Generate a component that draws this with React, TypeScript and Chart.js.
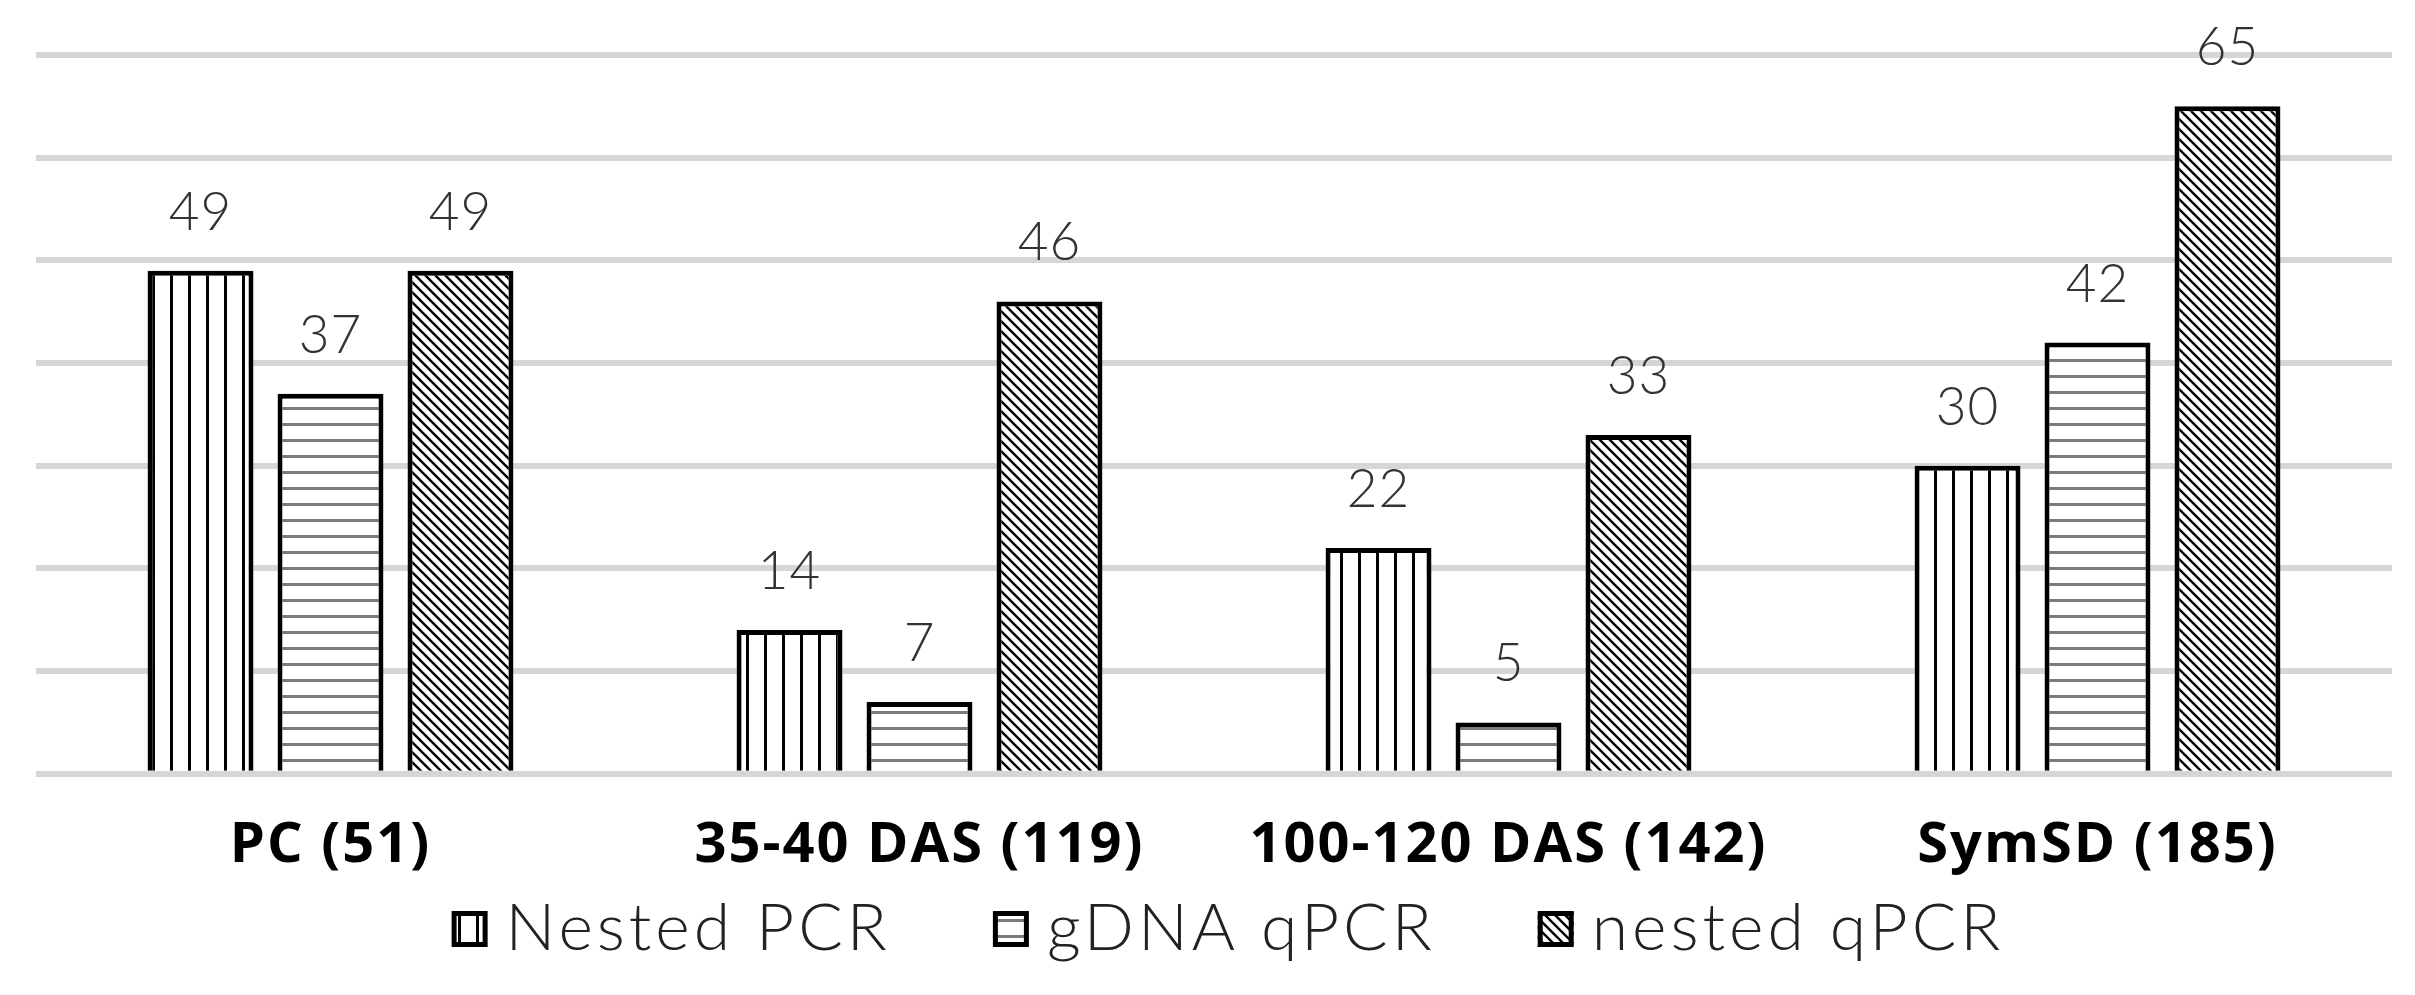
import { useEffect, useRef } from "react";
import { Chart, registerables } from "chart.js";

Chart.register(...registerables);

const categories = ["PC (51)", "35-40 DAS (119)", "100-120 DAS (142)", "SymSD (185)"];
const seriesNames = ["Nested PCR", "gDNA qPCR", "nested qPCR"];
const nestedPCR = [49, 14, 22, 30];
const gdnaQPCR = [37, 7, 5, 42];
const nestedQPCR = [49, 46, 33, 65];
const yMin = 0;
const yMax = 70;
const yStep = 10;

const LIGHT_FONT = "Lato, 'Open Sans', sans-serif";
const BOLD_FONT = "'Open Sans', 'Noto Sans', sans-serif";

function makePattern(
  ctx: CanvasRenderingContext2D,
  w: number,
  h: number,
  draw: (g: CanvasRenderingContext2D) => void
): CanvasPattern | string {
  const c = document.createElement("canvas");
  c.width = w;
  c.height = h;
  const g = c.getContext("2d")!;
  g.fillStyle = "#ffffff";
  g.fillRect(0, 0, w, h);
  draw(g);
  return ctx.createPattern(c, "repeat") || "#fff";
}

const letterSpacingPlugin = {
  id: "letterSpacing",
  beforeDraw(chart: any) {
    (chart.ctx as any).letterSpacing = "2px";
  },
};

const valueLabels = {
  id: "valueLabels",
  afterDatasetsDraw(chart: any) {
    const ctx = chart.ctx;
    ctx.save();
    (ctx as any).letterSpacing = "1px";
    ctx.fillStyle = "#333333";
    ctx.font = `300 53px ${LIGHT_FONT}`;
    ctx.textAlign = "center";
    ctx.textBaseline = "alphabetic";
    chart.data.datasets.forEach((ds: any, i: number) => {
      const meta = chart.getDatasetMeta(i);
      meta.data.forEach((el: any, j: number) => {
        ctx.fillText(String(ds.data[j]), el.x, el.y - 41);
      });
    });
    ctx.restore();
  },
};

const LEGEND_FONT_SIZE = 66;
const LEGEND_BOX = 36;
const LEGEND_TEXT_GAP = 18;
const LEGEND_ITEM_GAP = 102;
const LEGEND_FROM_BOTTOM = 66;
const LEGEND_SHIFT_X = 14;

const customLegend = {
  id: "customLegend",
  afterDraw(chart: any) {
    const ctx = chart.ctx;
    const cy = chart.height - LEGEND_FROM_BOTTOM;
    ctx.save();
    (ctx as any).letterSpacing = "4px";
    ctx.font = `300 ${LEGEND_FONT_SIZE}px ${LIGHT_FONT}`;
    const items = chart.data.datasets.map((ds: any) => {
      const tw = ctx.measureText(ds.label).width;
      return { ds, tw, w: LEGEND_BOX + LEGEND_TEXT_GAP + tw };
    });
    const total =
      items.reduce((s: number, it: any) => s + it.w, 0) + LEGEND_ITEM_GAP * (items.length - 1);
    const area = chart.chartArea;
    let x = (area.left + area.right) / 2 + LEGEND_SHIFT_X - total / 2;
    items.forEach((it: any) => {
      const bx = x;
      const by = cy - LEGEND_BOX / 2;
      ctx.fillStyle = it.ds.backgroundColor;
      ctx.fillRect(bx, by, LEGEND_BOX, LEGEND_BOX);
      ctx.lineWidth = 5;
      ctx.strokeStyle = "#000";
      ctx.strokeRect(bx + 2.5, by + 2.5, LEGEND_BOX - 5, LEGEND_BOX - 5);
      ctx.fillStyle = "#222";
      ctx.textAlign = "left";
      ctx.textBaseline = "middle";
      ctx.fillText(it.ds.label, bx + LEGEND_BOX + LEGEND_TEXT_GAP, cy);
      x += it.w + LEGEND_ITEM_GAP;
    });
    ctx.restore();
  },
};

export default function App() {
  const ref = useRef<HTMLCanvasElement | null>(null);

  useEffect(() => {
    document.body.style.margin = "0";
    const canvas = ref.current!;
    const ctx = canvas.getContext("2d")!;

    const vertical = makePattern(ctx, 18, 18, (g) => {
      g.fillStyle = "#000";
      g.fillRect(8, 0, 3, 18);
    });
    const horizontal = makePattern(ctx, 16, 16, (g) => {
      g.fillStyle = "#7a7a7a";
      g.fillRect(0, 7, 16, 3);
    });
    const diagonal = makePattern(ctx, 10, 10, (g) => {
      g.strokeStyle = "#000";
      g.lineWidth = 2.4;
      g.beginPath();
      g.moveTo(-2, -2);
      g.lineTo(12, 12);
      g.moveTo(-7, 3);
      g.lineTo(7, 17);
      g.moveTo(3, -7);
      g.lineTo(17, 7);
      g.stroke();
    });

    const fills = [vertical, horizontal, diagonal];
    const series = [nestedPCR, gdnaQPCR, nestedQPCR];

    const chart = new Chart(canvas, {
      type: "bar",
      data: {
        labels: categories,
        datasets: series.map((d, i) => ({
          label: seriesNames[i],
          data: d,
          backgroundColor: fills[i] as any,
          borderColor: "#000",
          borderWidth: 5,
          borderSkipped: "bottom",
          categoryPercentage: 0.662,
          barPercentage: 0.815,
        })),
      },
      options: {
        animation: false,
        responsive: true,
        maintainAspectRatio: false,
        devicePixelRatio: 1,
        layout: { padding: { left: 36, right: 23, top: 55, bottom: 84 } },
        plugins: {
          tooltip: { enabled: false },
          legend: { display: false },
        },
        scales: {
          x: {
            grid: { display: false },
            border: { display: false },
            ticks: {
              color: "#000",
              padding: 31,
              font: { family: BOLD_FONT, size: 56, weight: "bold" },
            },
          },
          y: {
            min: yMin,
            max: yMax,
            ticks: { stepSize: yStep, display: false },
            grid: { color: "#d6d6d6", lineWidth: 6, drawTicks: false },
            border: { display: false },
          },
        },
      },
      plugins: [letterSpacingPlugin, valueLabels, customLegend],
    });

    return () => chart.destroy();
  }, []);

  return (
    <div style={{ width: "2415px", height: "995px", position: "relative" }}>
      <canvas ref={ref} />
    </div>
  );
}
